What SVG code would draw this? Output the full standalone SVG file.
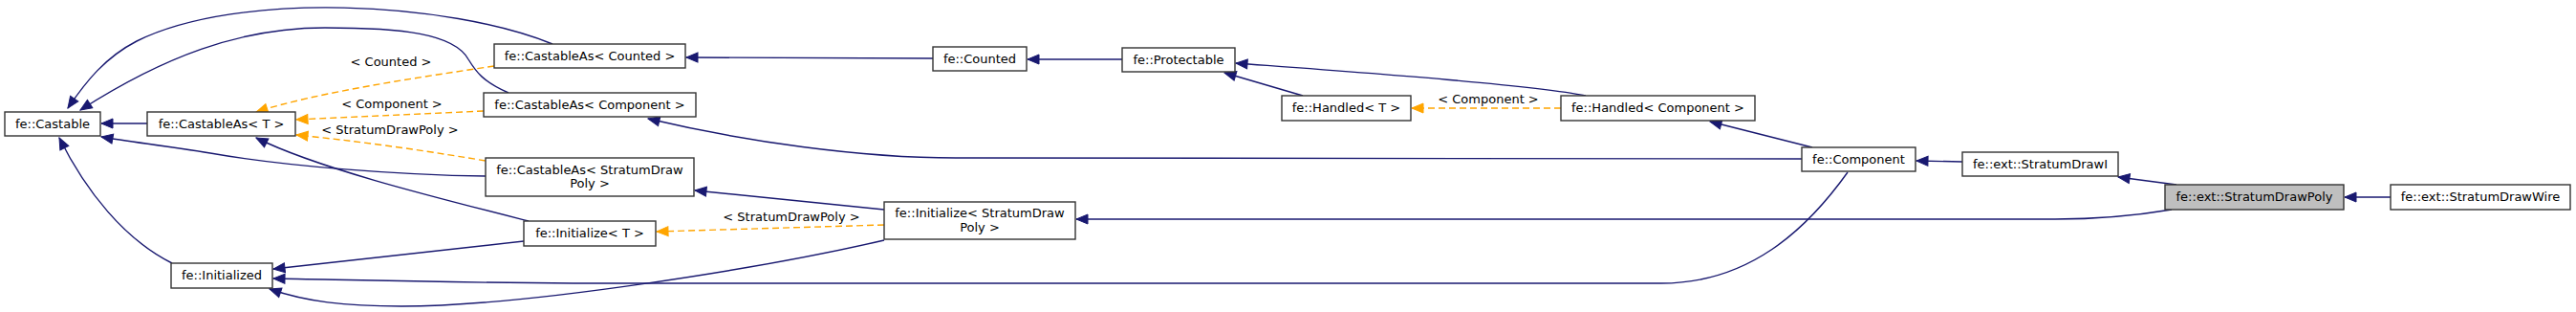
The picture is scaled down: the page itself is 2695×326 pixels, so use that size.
<svg xmlns="http://www.w3.org/2000/svg" width="2695" height="326" viewBox="0 0 2695 326">
<style>
.n rect{fill:#fff;stroke:#333;stroke-width:1.4}
.n.sel rect{fill:#bfbfbf}
.n text{font-family:"DejaVu Sans","Liberation Sans",sans-serif;font-size:13px;fill:#000;text-anchor:middle}
.e path{fill:none;stroke:#191970;stroke-width:1.4;marker-end:url(#ab)}
.e path.t{stroke:#ffa500;stroke-dasharray:7,4;marker-end:url(#ao)}
.lbl{font-family:"DejaVu Sans","Liberation Sans",sans-serif;font-size:13px;fill:#000;text-anchor:middle}
</style>
<defs>
<marker id="ab" markerUnits="userSpaceOnUse" markerWidth="14" markerHeight="12" refX="12" refY="5" orient="auto" viewBox="0 0 14 12" overflow="visible"><path d="M0,0 L12,5 L0,10 z" fill="#191970" stroke="#191970" stroke-width="1"/></marker>
<marker id="ao" markerUnits="userSpaceOnUse" markerWidth="14" markerHeight="12" refX="12" refY="5" orient="auto" viewBox="0 0 14 12" overflow="visible"><path d="M0,0 L12,5 L0,10 z" fill="#ffa500" stroke="#ffa500" stroke-width="1"/></marker>
</defs>
<rect width="2695" height="326" fill="#fff"/>
<g id="edges" class="e">
<path d="M154,129 L106,129"/>
<path d="M578,46 C470,2 250,-10 143,43 C110,60 90,85 71,113"/>
<path d="M532,97 C505,85 498,75 490,62 C475,35 420,29 340,29 C250,29 170,60 84,115"/>
<path d="M508,184 C420,183 300,174 220,160 C170,152 135,148 106,143"/>
<path d="M180,275 C130,250 90,200 62,144"/>
<path class="t" d="M517,69 C430,82 330,97 268,117"/>
<path class="t" d="M506,116 L310,125"/>
<path class="t" d="M508,168 C430,155 370,147 310,141"/>
<path d="M553,231 C450,205 330,175 268,144"/>
<path d="M548,252 L286,281"/>
<path d="M1933,180 C1890,240 1830,296 1738,296 L600,296 C450,295 350,292 286,291"/>
<path d="M925,251 C800,280 550,320 420,320 C360,320 320,315 282,302"/>
<path d="M925,219 L727,199"/>
<path class="t" d="M925,235 L687,242"/>
<path d="M976,61 L718,60"/>
<path d="M1174,62 L1075,62"/>
<path d="M1363,100 L1281,76"/>
<path d="M1659,100 C1600,88 1400,74 1293,66"/>
<path class="t" d="M1633,113 L1477,113"/>
<path d="M1896,154 L1789,127"/>
<path d="M1885,166 L1000,165 C900,165 780,148 678,124"/>
<path d="M2053,169 L2005,168"/>
<path d="M2277,193 L2216,185"/>
<path d="M2272,219 C2230,226 2190,229 2150,229 L1126,229"/>
<path d="M2501,206 L2453,206"/>
<text class="lbl" x="409" y="69">&lt; Counted &gt;</text>
<text class="lbl" x="410" y="113">&lt; Component &gt;</text>
<text class="lbl" x="408" y="140">&lt; StratumDrawPoly &gt;</text>
<text class="lbl" x="828" y="231">&lt; StratumDrawPoly &gt;</text>
<text class="lbl" x="1557" y="108">&lt; Component &gt;</text>
</g>
<g id="n_castable" class="n"><rect x="5" y="117" width="100" height="25"/><text x="55" y="134">fe::Castable</text></g>
<g id="n_castableasT" class="n"><rect x="154" y="117" width="155" height="25"/><text x="231.5" y="134">fe::CastableAs&lt; T &gt;</text></g>
<g id="n_initialized" class="n"><rect x="179" y="275" width="106" height="26"/><text x="232" y="292">fe::Initialized</text></g>
<g id="n_cas_counted" class="n"><rect x="517" y="46" width="200" height="25"/><text x="617" y="63">fe::CastableAs&lt; Counted &gt;</text></g>
<g id="n_cas_component" class="n"><rect x="506" y="97" width="222" height="25"/><text x="617" y="114">fe::CastableAs&lt; Component &gt;</text></g>
<g id="n_cas_sdp" class="n"><rect x="508" y="165" width="218" height="40"/><text x="617" y="182">fe::CastableAs&lt; StratumDraw</text><text x="617" y="196">Poly &gt;</text></g>
<g id="n_initializeT" class="n"><rect x="548" y="231" width="138" height="26"/><text x="617" y="248">fe::Initialize&lt; T &gt;</text></g>
<g id="n_counted" class="n"><rect x="976" y="49" width="98" height="25"/><text x="1025" y="66">fe::Counted</text></g>
<g id="n_init_sdp" class="n"><rect x="925" y="211" width="200" height="39"/><text x="1025" y="227">fe::Initialize&lt; StratumDraw</text><text x="1025" y="242">Poly &gt;</text></g>
<g id="n_protectable" class="n"><rect x="1174" y="50" width="118" height="25"/><text x="1233" y="67">fe::Protectable</text></g>
<g id="n_handledT" class="n"><rect x="1341" y="100" width="135" height="26"/><text x="1408.5" y="117">fe::Handled&lt; T &gt;</text></g>
<g id="n_handled_comp" class="n"><rect x="1633" y="100" width="203" height="26"/><text x="1734.5" y="117">fe::Handled&lt; Component &gt;</text></g>
<g id="n_component" class="n"><rect x="1885" y="154" width="119" height="25"/><text x="1944.5" y="171">fe::Component</text></g>
<g id="n_sdi" class="n"><rect x="2053" y="159" width="163" height="25"/><text x="2134.5" y="176">fe::ext::StratumDrawI</text></g>
<g id="n_sdp" class="n sel"><rect x="2265" y="193" width="187" height="26"/><text x="2358.5" y="210">fe::ext::StratumDrawPoly</text></g>
<g id="n_sdw" class="n"><rect x="2501" y="193" width="188" height="26"/><text x="2595" y="210">fe::ext::StratumDrawWire</text></g>
</svg>
